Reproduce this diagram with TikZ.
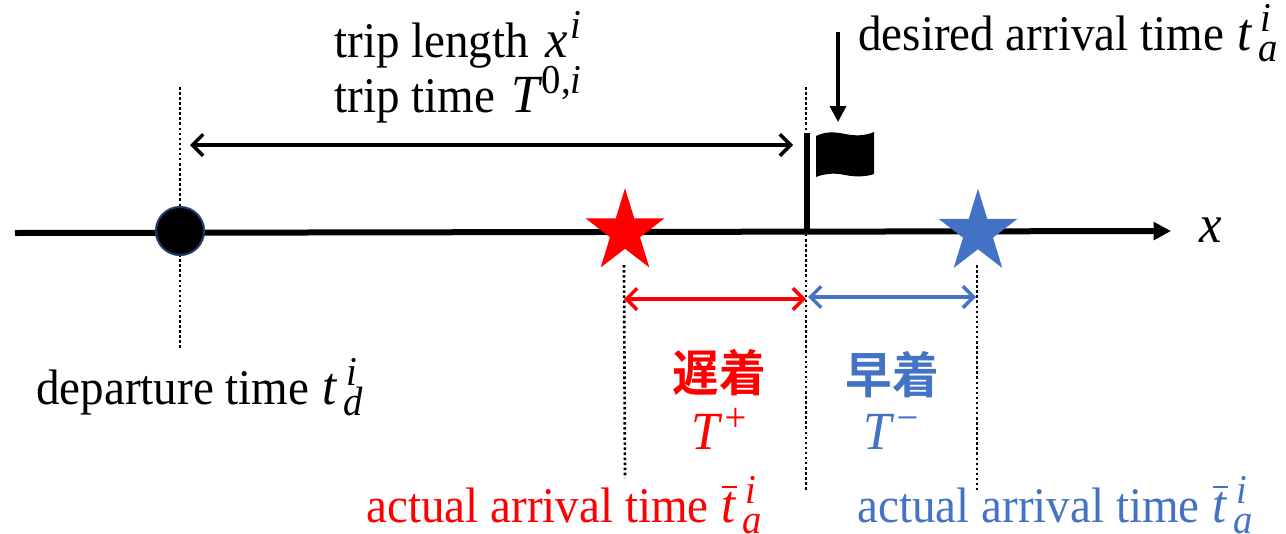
\documentclass[tikz,border=0pt]{standalone}
\usepackage{fontspec}
\setmainfont{Liberation Serif}
\newfontfamily\cjk{Noto Sans CJK JP}[BoldFont={Noto Sans CJK JP Bold}]
\usetikzlibrary{arrows.meta,shapes.geometric}
\definecolor{myblue}{HTML}{4472C4}
\definecolor{myred}{HTML}{FF0000}
\definecolor{mynavy}{HTML}{1F3864}
% letter in italics, with superscript and subscript stacked after it
\newcommand{\scrfnt}{\fontsize{29}{30}\selectfont\itshape}
\newcommand{\mletter}[1]{{\fontsize{38}{40}\selectfont\itshape #1}}
\newcommand{\supsub}[2]{\makebox[0pt][l]{\kern2pt\raisebox{13pt}{\scrfnt #1}}\raisebox{-8pt}{\scrfnt #2}}
\newcommand{\supon}[1]{\raisebox{13pt}{\scrfnt #1}}
\newcommand{\tbar}{\makebox[0pt][l]{\raisebox{24pt}{\rule{11pt}{1.5pt}}}\mletter{t}}
\tikzset{
  lbl/.style={anchor=base west,inner sep=0pt,yscale=1.06,transform shape,font=\fontsize{35.3}{40}\selectfont},
  cjklbl/.style={anchor=center,inner sep=0pt,yscale=1.06,transform shape,font=\fontsize{35}{40}\selectfont\cjk\bfseries},
  mathlbl/.style={anchor=center,inner sep=0pt,yscale=1.06,transform shape,font=\fontsize{35.3}{40}\selectfont},
  axisline/.style={line width=4.5pt,-{Stealth[length=13pt,width=13pt,inset=0pt]}},
  pole/.style={line width=4.5pt},
  dots/.style={line width=2pt,dash pattern=on 1.9pt off 1.9pt},
  dimline/.style={line width=2.6pt,{Straight Barb[length=8pt,width=16pt,line width=2.6pt]}-{Straight Barb[length=8pt,width=16pt,line width=2.6pt]}},
  pointer/.style={line width=2.6pt,-{Stealth[length=12pt,width=12pt,inset=0pt]}},
  starmark/.style={star,star points=5,star point ratio=2.618,minimum size=62pt,inner sep=0pt,draw=none,yscale=1.06,transform shape},
}
\begin{document}
\begin{tikzpicture}[x=0.75pt,y=-0.75pt]
\useasboundingbox (0,0) rectangle (1286,533);
% end points
\coordinate (ax0) at (15,233);
\coordinate (ax1) at (1171,231);
\coordinate (dep0) at (180,87);
\coordinate (dep1) at (180,350);
\coordinate (des0) at (806,87);
\coordinate (des1) at (806,490);
\coordinate (red0) at (624,265);
\coordinate (red1) at (625,478);
\coordinate (blu0) at (977,265);
\coordinate (blu1) at (977,490);
\coordinate (poleT) at (807,133);
\coordinate (poleB) at (807,232);
\coordinate (tripL) at (190,145);
\coordinate (tripR) at (793,145);
\coordinate (redL) at (624,299);
\coordinate (redR) at (806,299);
\coordinate (bluL) at (808,297);
\coordinate (bluR) at (976,297);
\coordinate (ptr0) at (838,32);
\coordinate (ptr1) at (838,122);
% dotted guides
\draw[dots] (dep0) -- (dep1);
\draw[dots] (des0) -- (des1);
\draw[dots] (red0) -- (red1);
\draw[dots] (blu0) -- (blu1);
% axis
\draw[axisline] (ax0) -- (ax1);
\draw[pole] (poleT) -- (poleB);
% flag
\fill (816,136) .. controls (826,131) and (836,132) .. (845,134)
  .. controls (855,136) and (865,136) .. (874,132)
  -- (874,174) .. controls (865,177) and (855,177) .. (845,175)
  .. controls (836,173) and (826,173) .. (816,177) -- cycle;
\draw[pointer] (ptr0) -- (ptr1);
% depart dot
\node[circle,fill=black,draw=mynavy,line width=1.6pt,minimum size=36pt,inner sep=0pt] (depdot) at (180,231) {};
% stars
\node[starmark,fill=myred] (sred) at (625,232) {};
\node[starmark,fill=myblue] (sblu) at (978,232.5) {};
% dimension arrows
\draw[dimline] (tripL) -- (tripR);
\draw[dimline,myred] (redL) -- (redR);
\draw[dimline,myblue] (bluL) -- (bluR);
% labels
\node[lbl] (t1) at (334,57) {trip length\kern12pt\mletter{x}\kern2pt\supon{i}};
\node[lbl] (t2) at (334,112) {trip time\kern12pt\mletter{T}\kern2pt\supon{\upshape 0,\itshape i}};
\node[lbl] (t3) at (858,50) {desired arrival time\kern10pt\mletter{t}\kern5pt\supsub{i}{a}};
\node[lbl] (t4) at (36,404) {departure time\kern10pt\mletter{t}\kern5pt\supsub{i}{d}};
\node[lbl,text=myred] (t5) at (366,522) {actual arrival time\kern10pt\tbar\kern5pt\supsub{i}{a}};
\node[lbl,text=myblue] (t6) at (857,522) {actual arrival time\kern10pt\tbar\kern5pt\supsub{i}{a}};
\node[mathlbl] (xl) at (1211,230) {\mletter{x}};
\node[cjklbl,text=myred] (late) at (719,373) {遅着};
\node[cjklbl,text=myblue] (early) at (892,375) {早着};
\node[mathlbl,text=myred] (tp) at (720,429) {\mletter{T}\kern2pt\supon{+}};
\node[mathlbl,text=myblue] (tm) at (892,432) {\mletter{T}\kern2pt\supon{−}};
\end{tikzpicture}
\end{document}
